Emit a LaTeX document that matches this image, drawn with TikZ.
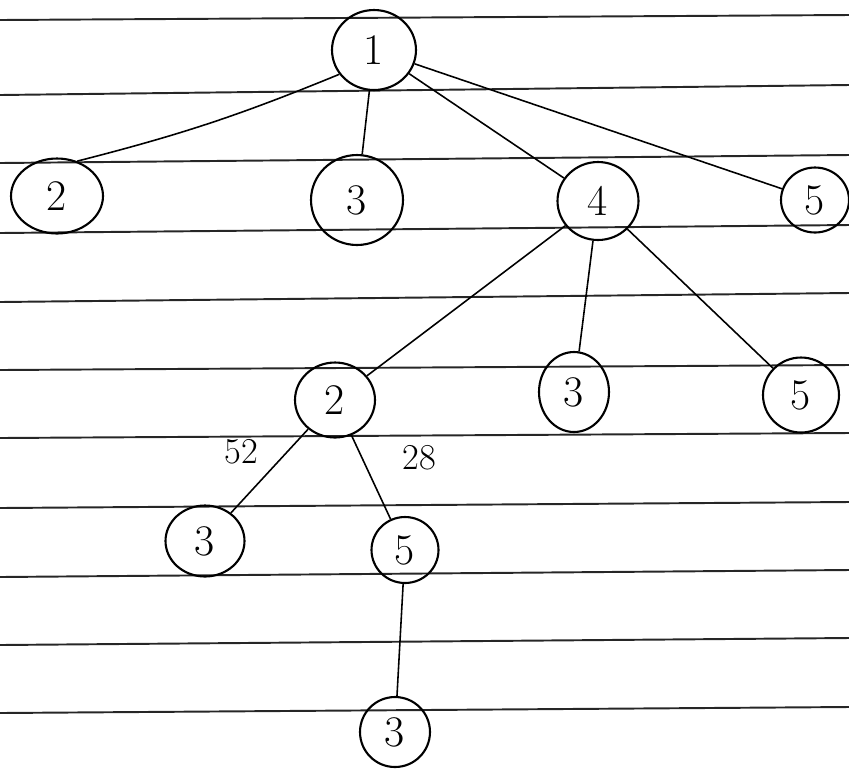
\documentclass[tikz,border=0pt]{standalone}
\usetikzlibrary{shapes.geometric}
\tikzset{
  vtx/.style={draw, ellipse, line width=1.2pt, inner sep=0pt, font=\Huge},
  edge/.style={line width=0.9pt},
  wgt/.style={font=\huge},
  ruled/.style={line width=1.1pt, black!85}
}
\begin{document}
\begin{tikzpicture}[x=0.02cm, y=-0.02cm]
    \useasboundingbox (0,0) rectangle (849,769);
    % ruled paper
    \foreach \yl/\yr in {20/15, 95/85, 163/155, 233/225, 302/293, 370/365,
                          438/433, 508/502, 577/570, 645/638, 713/707}
      \draw[ruled] (0,\yl) -- (849,\yr);
    % first level
    \node[vtx, minimum width=1.68cm, minimum height=1.6cm] (r1) at (374,50) {1};
    \node[vtx, minimum width=1.84cm, minimum height=1.5cm] (a2) at (57,196) {2};
    \node[vtx, minimum width=1.84cm, minimum height=1.8cm] (a3) at (357,200) {3};
    \node[vtx, minimum width=1.62cm, minimum height=1.56cm] (a4) at (598,201) {4};
    \node[vtx, minimum width=1.36cm, minimum height=1.3cm] (a5) at (815,200) {5};
    % children of 4
    \node[vtx, minimum width=1.6cm, minimum height=1.5cm] (b2) at (335,400) {2};
    \node[vtx, minimum width=1.4cm, minimum height=1.6cm] (b3) at (574,392) {3};
    \node[vtx, minimum width=1.52cm, minimum height=1.5cm] (b5) at (801,395) {5};
    % children of 2
    \node[vtx, minimum width=1.58cm, minimum height=1.42cm] (c3) at (205,541) {3};
    \node[vtx, minimum width=1.34cm, minimum height=1.32cm] (c5) at (405,550) {5};
    % child of 5
    \node[vtx, minimum width=1.4cm, minimum height=1.4cm] (d3) at (395,732) {3};
    % edges
    \draw[edge] (r1.215) to[bend left=4] (a2.60);
    \draw[edge] (r1) -- (a3);
    \draw[edge] (r1) -- (a4);
    \draw[edge] (r1) -- (a5);
    \draw[edge] (a4) -- (b2);
    \draw[edge] (a4) -- (b3);
    \draw[edge] (a4) -- (b5);
    \draw[edge] (b2) -- (c3);
    \draw[edge] (b2) -- (c5);
    \draw[edge] (c5) -- (d3);
    % weights
    \node[wgt] (w52) at (241,452) {52};
    \node[wgt] (w28) at (419,458) {28};
\end{tikzpicture}
\end{document}
